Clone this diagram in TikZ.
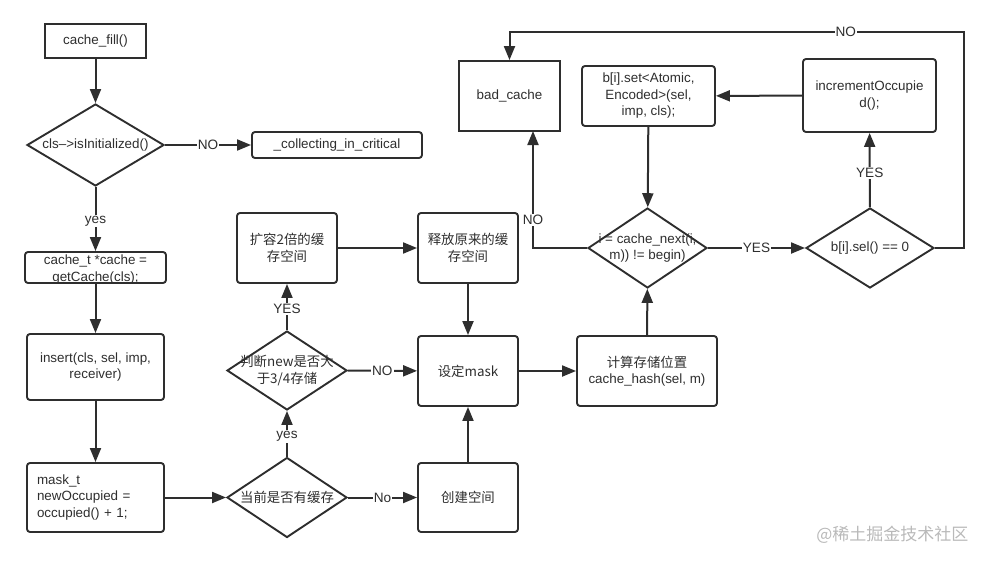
\documentclass[tikz,border=0pt]{standalone}
\usepackage{fontspec}
\setmainfont{Liberation Sans}
\newfontfamily\cjk{Noto Sans CJK SC}
\usetikzlibrary{shapes.geometric,arrows.meta}
\definecolor{ink}{HTML}{2E2E2E}
\begin{document}
\begin{tikzpicture}[x=1pt,y=-1pt,
  every node/.style={text=ink, font=\fontsize{13.4}{16.5}\selectfont},
  cjkf/.style={font=\cjk\fontsize{13.4}{16.5}\selectfont},
  box/.style={draw=ink, line width=1.9pt, rounded corners=3pt, inner sep=0pt, align=center},
  dia/.style={draw=ink, line width=1.9pt, diamond, inner sep=0pt},
  arr/.style={draw=ink, line width=2pt, -{Triangle[length=14pt,width=11pt]}},
  lbl/.style={fill=white, inner sep=1pt, font=\fontsize{13.6}{14}\selectfont}]
\useasboundingbox (0,0) rectangle (989,562);

% left column
\node[box, sharp corners, minimum width=101, minimum height=34] (fill) at (95.5,41) {cache\_fill()};
\node[dia, minimum width=137, minimum height=82, label={center:{cls-->isInitialized()}}] (init) at (95.5,145) {};
\node[box, minimum width=170, minimum height=26] (coll) at (337,145) {\_collecting\_in\_critical};
\node[box, minimum width=141, minimum height=31, label={[align=center, yshift=-2pt]center:{cache\_t *cache =\\getCache(cls);}}] (ct) at (95.5,267.5) {};
\node[box, minimum width=137, minimum height=66] (ins) at (95.5,367) {insert(cls, sel, imp,\\receiver)};
\node[box, minimum width=137, minimum height=69, text width=117, align=left] (mask) at (95.5,497.5) {mask\_t\\newOccupied =\\occupied() + 1;};

% middle
\node[dia, minimum width=120, minimum height=80, label={[cjkf]center:{当前是否有缓存}}] (cur) at (287,497.5) {};
\node[dia, minimum width=120, minimum height=79, label={[cjkf, align=center]center:{判断new是否大\\于3/4存储}}] (judge) at (287,370.5) {};
\node[box, cjkf, minimum width=100, minimum height=70] (exp) at (287,248) {扩容2倍的缓\\存空间};
\node[box, cjkf, minimum width=100, minimum height=70] (rel) at (468,248) {释放原来的缓\\存空间};
\node[box, cjkf, minimum width=100, minimum height=70] (setm) at (468,371) {设定mask};
\node[box, cjkf, minimum width=100, minimum height=69] (create) at (468,497.5) {创建空间};
\node[box, minimum width=140, minimum height=70] (calc) at (647,371) {{\cjk 计算存储位置}\\cache\_hash(sel, m)};

% right
\node[dia, minimum width=119, minimum height=80, label={[align=center]center:{i = cache\_next(i,\\m)) != begin)}}] (next) at (647.5,248) {};
\node[dia, minimum width=128, minimum height=80, label={center:{b[i].sel() == 0}}] (sel) at (870,248) {};
\node[box, sharp corners, minimum width=101, minimum height=70] (bad) at (509.5,96) {bad\_cache};
\node[box, minimum width=133, minimum height=60] (setb) at (648.5,96) {b[i].set<Atomic,\\Encoded>(sel,\\imp, cls);};
\node[box, minimum width=133, minimum height=73] (inc) at (869.5,95.5) {incrementOccupie\\d();};

\node[text=gray!55, font=\cjk\fontsize{17}{17}\selectfont, anchor=east] (wm) at (972,535) {@稀土掘金技术社区};

% connectors
\draw[arr] (fill) -- (init);
\draw[arr] (init) -- node[lbl]{NO} (coll);
\draw[arr] (init) -- node[lbl, pos=0.53]{yes} (ct);
\draw[arr] (ct) -- (ins);
\draw[arr] (ins) -- (mask);
\draw[arr] (mask) -- (cur);
\draw[arr] (cur) -- node[lbl, pos=0.44]{yes} (judge);
\draw[arr] (cur) -- node[lbl]{No} (create);
\draw[arr] (judge) -- node[lbl, pos=0.45]{YES} (exp);
\draw[arr] (judge) -- node[lbl]{NO} (setm);
\draw[arr] (exp) -- (rel);
\draw[arr] (rel) -- (setm);
\draw[arr] (create) -- (setm);
\draw[arr] (setm) -- (calc);
\draw[arr] (calc) -- (next);
\draw[arr] (setb) -- (next);
\draw[arr] (next) -- node[lbl]{YES} (sel);
\draw[arr] (sel) -- node[lbl, pos=0.46]{YES} (inc);
\draw[arr] (inc) -- (setb);
\coordinate (badin) at (533,131);
\draw[arr] (next.west) -| node[lbl, pos=0.62]{NO} (badin);
\coordinate (loopR) at (964,32);
\coordinate (loopL) at (bad.north |- loopR);
\draw[arr] (sel.east) -| (loopR) -- node[lbl, pos=0.26]{NO} (loopL) -- (bad.north);
\end{tikzpicture}
\end{document}
